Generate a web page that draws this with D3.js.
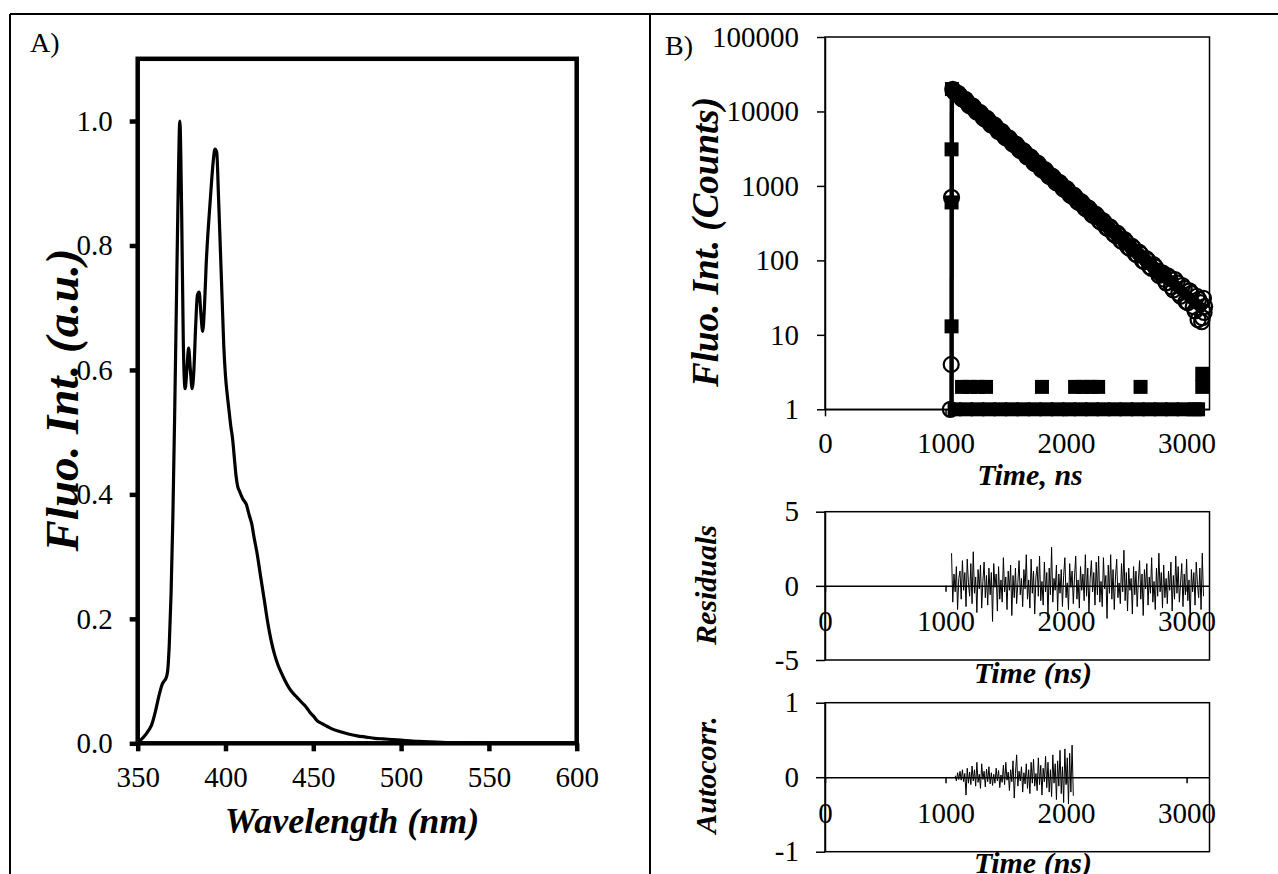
<!DOCTYPE html>
<html>
<head>
<meta charset="utf-8">
<script src="https://cdn.jsdelivr.net/npm/d3@7"></script>
<style>
  body { margin: 0; background: #fff; }
  svg { display: block; }
</style>
</head>
<body>
<svg id="fig" width="1278" height="874"></svg>
<script>
// ---- Panel A: emission spectrum ----
const specWavelength = [350, 352, 354, 356, 358, 360, 362, 364, 365, 366, 367, 368, 369, 370, 371, 372, 373, 374,
  375, 376, 377, 378, 379, 380, 381, 382, 383, 384, 385, 386, 387, 388, 389, 390, 391, 392, 393, 394, 395,
  396, 397, 398, 399, 400, 401, 402, 403, 404, 405, 406, 407, 408, 409, 410, 411, 412, 413, 414, 415, 416,
  418, 420, 422, 424, 426, 428, 430, 432, 434, 436, 438, 440, 442, 444, 446, 448, 450, 452, 454, 456, 458,
  460, 465, 470, 475, 480, 485, 490, 495, 500, 505, 510, 520, 530, 550, 600];
const specIntensity = [0.003, 0.006, 0.012, 0.02, 0.03, 0.05, 0.075, 0.095, 0.1, 0.104, 0.115, 0.16, 0.24, 0.36, 0.52, 0.7, 0.88, 1.0,
  0.86, 0.64, 0.57, 0.6, 0.635, 0.6, 0.57, 0.6, 0.67, 0.72, 0.725, 0.69, 0.662, 0.7, 0.77, 0.82, 0.86, 0.9, 0.935, 0.955, 0.95,
  0.88, 0.8, 0.72, 0.64, 0.59, 0.56, 0.535, 0.51, 0.49, 0.46, 0.43, 0.412, 0.405, 0.398, 0.392, 0.388, 0.383, 0.372, 0.362, 0.352, 0.335,
  0.305, 0.268, 0.232, 0.195, 0.165, 0.142, 0.125, 0.112, 0.1, 0.09, 0.082, 0.076, 0.07, 0.064, 0.058, 0.05, 0.044, 0.037, 0.033, 0.03, 0.027,
  0.024, 0.019, 0.015, 0.012, 0.01, 0.008, 0.007, 0.006, 0.005, 0.004, 0.003, 0.002, 0.001, 0.0005, 0];
const specXTicks = [350, 400, 450, 500, 550, 600];
const specYTicks = [0, 0.2, 0.4, 0.6, 0.8, 1.0];

// ---- Panel B: decay (circles = data, squares = IRF, lines = rise + fit) ----
const decayTime = [1040, 1047, 1050,
  1060, 1090, 1120, 1150, 1180, 1210, 1240, 1270, 1300, 1330, 1360, 1390, 1420, 1450, 1480, 1510, 1540, 1570,
  1600, 1630, 1660, 1690, 1720, 1750, 1780, 1810, 1840, 1870, 1900, 1930, 1960, 1990, 2020, 2050, 2080, 2110,
  2140, 2170, 2200, 2230, 2260, 2290, 2320, 2350, 2380, 2410, 2440, 2470, 2500, 2530, 2560, 2590, 2620, 2650,
  2680, 2710, 2740, 2770, 2800, 2830, 2860, 2890, 2920, 2950, 2980, 3010, 3040, 3070, 3100, 3130,
  1075, 1105, 1135, 1165, 1195, 1225, 1255, 1285, 1315, 1345, 1375, 1405, 1435, 1465, 1495, 1525, 1555, 1585,
  1615, 1645, 1675, 1705, 1735, 1765, 1795, 1825, 1855, 1885, 1915, 1945, 1975, 2005, 2035, 2065, 2095, 2125,
  2155, 2185, 2215, 2245, 2275, 2305, 2335, 2365, 2395, 2425, 2455, 2485, 2515, 2545, 2575, 2605, 2635, 2665,
  2695, 2725,
  2755, 2785, 2815, 2845, 2875, 2905, 2935, 2965, 2995, 3025, 3055, 3085, 3095, 3115, 3125, 3140, 3145, 3150];
const decayCounts = [1, 4, 700,
  19800, 17600, 16300, 14400, 13400, 11800, 11000, 9700, 9050, 7900, 7420, 6500, 6100, 5320, 5010, 4380, 4110, 3580,
  3380, 2940, 2780, 2410, 2280, 1970, 1870, 1620, 1540, 1320, 1260, 1090, 1040, 890, 850, 730, 700, 595,
  575, 488, 472, 398, 389, 326, 320, 266, 262, 217, 216, 178, 176, 145, 146, 118, 121, 96,
  99, 78, 82, 63, 68, 50, 58, 40, 50, 33, 42, 27, 36, 21, 30, 17,
  18100, 17500, 14800, 14500, 12100, 11900, 9900, 9750, 8100, 8050, 6650, 6600, 5450, 5420, 4480, 4430, 3680, 3650,
  3010, 2990, 2470, 2460, 2020, 2020, 1660, 1660, 1360, 1360, 1115, 1120, 915, 920, 750, 755, 615, 618,
  505, 508, 412, 418, 338, 342, 276, 282, 226, 232, 184, 190, 150, 156, 122, 129, 99, 106,
  82, 88,
  72, 66, 56, 62, 44, 55, 36, 46, 28, 39, 24, 33, 16, 27, 15, 31, 20, 24];
const irfTime = [1050, 1050, 1050, 1053,
  1075, 1170, 1265, 1360, 1455, 1550, 1645, 1740, 1835, 1930, 2025, 2120, 2215, 2310, 2405, 2500, 2595, 2690,
  2785, 2880, 2975, 3070, 3095,
  1137, 1200, 1270, 1336, 1800, 2075, 2140, 2205, 2266, 2618, 3130, 3130];
const irfCounts = [13, 600, 3100, 20000,
  1, 1, 1, 1, 1, 1, 1, 1, 1, 1, 1, 1, 1, 1, 1, 1, 1, 1,
  1, 1, 1, 1, 1,
  2, 2, 2, 2, 2, 2, 2, 2, 2, 2, 2, 3];
const riseTime = [1050, 1052];
const riseCounts = [1, 20000];
const fitTime = [1052, 3150];
const fitCounts = [20000, 21];
const timeTicks = [0, 1000, 2000, 3000];
const countTicks = [1, 10, 100, 1000, 10000, 100000];

// ---- Residuals (one channel every 10 ns from 1050 ns) ----
const residStartNs = 1050, residStepNs = 10;
const residuals = [
  2.2, -1.1, 0.8, -0.4, 1.3, -1.6, 0.5, 1.0, -0.9, 1.7, -0.3, 0.9, -1.4, 1.8, 0.2,
  -0.7, 1.5, -1.2, 2.3, -0.5, 0.6, -1.8, 1.1, -0.2, 1.4, -1.5, 0.3, 1.6, -0.8, 0.7,
  -1.3, 1.2, -0.6, 0.9, -2.4, 1.5, -0.1, 0.8, -1.7, 1.3, -0.9, 0.4, -1.1, 1.9, -0.4,
  0.6, -1.6, 1.0, -0.3, 1.4, -2.0, 0.7, -0.8, 1.2, -1.2, 0.2, 1.7, -0.6, 0.5, -1.4,
  1.1, -0.2, 2.1, -0.9, 0.4, -1.5, 1.8, -0.5, 1.0, -1.9, 0.6, 1.3, -0.7, 2.0, -1.0,
  0.3, -1.3, 1.6, -0.4, 0.9, -2.1, 1.2, -0.6, 2.6, -1.1, 0.5, -0.3, 1.4, -1.7, 0.8,
  -0.5, 1.1, -1.4, 0.7, 1.9, -0.8, 0.2, -1.6, 1.5, -0.1, 1.0, -1.2, 0.6, 2.0, -0.9,
  0.4, -1.5, 1.3, -0.3, 0.8, -1.0, 2.1, -0.7, 1.2, -1.8, 0.5, 1.7, -0.4, 0.9, -1.3,
  1.6, -0.6, 2.0, -1.1, 0.3, -1.4, 1.9, -0.2, 0.7, -2.2, 1.4, -0.5, 2.1, -0.9, 1.1,
  -1.6, 0.6, 1.8, -0.8, 0.2, -1.2, 1.5, -0.4, 2.4, -1.0, 0.9, -1.7, 1.2, -0.3, 0.5,
  -1.9, 1.3, -0.6, 1.0, -1.4, 0.4, 1.7, -0.9, 0.8, -2.0, 1.1, -0.2, 1.5, -1.3, 0.6,
  -0.5, 1.9, -1.1, 0.3, -1.6, 1.2, -0.7, 2.2, -0.4, 0.9, -1.5, 1.4, -0.8, 0.5, -1.2,
  1.0, -0.3, 1.6, -1.7, 0.7, -0.9, 2.0, -0.5, 1.3, -1.1, 0.2, 1.5, -1.4, 0.8, -0.6,
  1.8, -1.0, 0.4, -2.3, 1.1, -0.4, 0.9, -1.3, 1.6, 0.1, -0.8, 1.2, -1.6, 2.2, -0.7];
const residTicks = [-5, 0, 5];

// ---- Autocorrelation of residuals (every 10 ns from 1080 ns) ----
const autoStartNs = 1080, autoStepNs = 10;
const autocorr = [
  0.02, -0.05, 0.06, -0.03, 0.08, -0.04, 0.1, -0.06, 0.05, -0.24, 0.12, -0.08, 0.07, -0.1, 0.15,
  -0.05, 0.1, -0.12, 0.2, -0.07, 0.04, -0.15, 0.18, -0.03, 0.08, -0.13, 0.11, -0.06, 0.14, -0.09,
  0.06, -0.11, 0.04, -0.08, 0.12, -0.05, 0.09, -0.14, 0.03, -0.07, 0.16, -0.1, 0.2, -0.04, 0.07,
  -0.18, 0.1, -0.06, 0.22, -0.28, 0.05, 0.3, -0.12, 0.08, -0.05, 0.14, -0.2, 0.06, -0.09, 0.18,
  -0.15, 0.1, -0.22, 0.2, -0.08, 0.24, -0.12, 0.05, -0.18, 0.26, -0.1, 0.16, -0.24, 0.12, -0.06,
  0.28, -0.14, 0.2, -0.2, 0.1, -0.26, 0.3, -0.08, 0.18, -0.3, 0.22, -0.12, 0.36, -0.22, 0.14,
  -0.34, 0.38, -0.1, 0.26, -0.36, 0.32, -0.2, 0.43, -0.25];
const autoTicks = [-1, 0, 1];

const SERIF = '"Liberation Serif", "Times New Roman", Times, serif';
const TICK_FONT = 29;
const svg = d3.select("#fig").attr("font-family", SERIF);

// table frame around the two panels
const frame = svg.append("g").attr("stroke", "#000").attr("stroke-width", 2);
frame.append("line").attr("x1", 10).attr("y1", 14).attr("x2", 1278).attr("y2", 14);
frame.append("line").attr("x1", 10).attr("y1", 14).attr("x2", 10).attr("y2", 874);
frame.append("line").attr("x1", 650).attr("y1", 14).attr("x2", 650).attr("y2", 874);

// axis styling helper
function styleAxis(g, fontSize, strokeW) {
  g.attr("font-family", SERIF).attr("font-size", fontSize);
  g.selectAll(".domain").attr("stroke", "#000").attr("stroke-width", strokeW);
  g.selectAll(".tick line").attr("stroke", "#000").attr("stroke-width", strokeW);
  g.selectAll(".tick text").attr("fill", "#000");
}

function title(text, x, y, size, rotate) {
  svg.append("text")
    .attr("transform", rotate ? `translate(${x},${y}) rotate(-90)` : `translate(${x},${y})`)
    .attr("text-anchor", "middle")
    .attr("dy", rotate ? "0.35em" : null)
    .attr("font-size", size)
    .attr("font-weight", "bold")
    .attr("font-style", "italic")
    .text(text);
}

// ================= Panel A =================
const xA = d3.scaleLinear().domain([350, 600]).range([137.7, 576.7]);
const yA = d3.scaleLinear().domain([0, 1.1]).range([743.3, 58.8]);

svg.append("text").attr("x", 30).attr("y", 52).attr("font-size", 28).text("A)");

svg.append("rect")
  .attr("x", xA(350)).attr("y", yA(1.1))
  .attr("width", xA(600) - xA(350)).attr("height", yA(0) - yA(1.1))
  .attr("fill", "none").attr("stroke", "#000").attr("stroke-width", 4.5);

const axA_y = svg.append("g").attr("transform", `translate(${xA(350)},0)`)
  .call(d3.axisLeft(yA).tickValues(specYTicks).tickFormat(d3.format(".1f")).tickSize(8).tickSizeOuter(0).tickPadding(17));
styleAxis(axA_y, TICK_FONT, 4.5);
axA_y.select(".domain").remove();

const axA_x = svg.append("g").attr("transform", `translate(0,${yA(0)})`)
  .call(d3.axisBottom(xA).tickValues(specXTicks).tickSize(8).tickSizeOuter(0).tickPadding(15));
styleAxis(axA_x, TICK_FONT, 4.5);
axA_x.select(".domain").remove();

const specLine = d3.line()
  .x((d, i) => xA(specWavelength[i]))
  .y(d => yA(d))
  .curve(d3.curveMonotoneX);

svg.append("path")
  .datum(specIntensity)
  .attr("fill", "none")
  .attr("stroke", "#000")
  .attr("stroke-width", 3.2)
  .attr("stroke-linejoin", "round")
  .attr("d", specLine);

title("Fluo. Int. (a.u.)", 62, 400, 47, true);
title("Wavelength (nm)", 352, 833, 36, false);

// ================= Panel B: decay =================
const xB = d3.scaleLinear().domain([0, 3190]).range([825, 1209.5]);
const yB = d3.scaleLog().domain([1, 100000]).range([409.3, 37]);
const timeFmt = d => String(d);

svg.append("text").attr("x", 665).attr("y", 55).attr("font-size", 28).text("B)");

svg.append("rect")
  .attr("x", xB(0)).attr("y", yB(100000))
  .attr("width", xB(3190) - xB(0)).attr("height", yB(1) - yB(100000))
  .attr("fill", "none").attr("stroke", "#000").attr("stroke-width", 1.5);

const axB_y = svg.append("g").attr("transform", `translate(${xB(0)},0)`)
  .call(d3.axisLeft(yB).tickValues(countTicks).tickFormat(d => String(d)).tickSize(8).tickSizeOuter(0).tickPadding(18));
styleAxis(axB_y, TICK_FONT, 1.5);

const axB_x = svg.append("g").attr("transform", `translate(0,${yB(1)})`)
  .call(d3.axisBottom(xB).tickValues(timeTicks).tickFormat(timeFmt).tickSize(7).tickSizeOuter(0).tickPadding(16));
styleAxis(axB_x, TICK_FONT, 1.5);

const logLine = (times) => d3.line()
  .x((d, i) => xB(times[i]))
  .y(d => yB(d));

svg.append("path")
  .datum(riseCounts)
  .attr("fill", "none")
  .attr("stroke", "#000")
  .attr("stroke-width", 4.5)
  .attr("d", logLine(riseTime));

svg.append("path")
  .datum(fitCounts)
  .attr("fill", "none")
  .attr("stroke", "#000")
  .attr("stroke-width", 11)
  .attr("d", logLine(fitTime));

svg.append("g").selectAll("circle")
  .data(decayCounts)
  .enter()
  .append("circle")
  .attr("cx", (d, i) => xB(decayTime[i]))
  .attr("cy", d => yB(d))
  .attr("r", 7.5)
  .attr("fill", "none")
  .attr("stroke", "#000")
  .attr("stroke-width", 2.2);

svg.append("g").selectAll("rect")
  .data(irfCounts)
  .enter()
  .append("rect")
  .attr("x", (d, i) => xB(irfTime[i]) - 7)
  .attr("y", d => yB(d) - 7)
  .attr("width", 14)
  .attr("height", 14)
  .attr("fill", "#000");

title("Fluo. Int. (Counts)", 705, 242, 37, true);
title("Time, ns", 1030, 485, 30, false);

// ================= Residuals =================
const yR = d3.scaleLinear().domain([-5, 5]).range([660, 511.7]);

svg.append("rect")
  .attr("x", xB(0)).attr("y", yR(5))
  .attr("width", xB(3190) - xB(0)).attr("height", yR(-5) - yR(5))
  .attr("fill", "none").attr("stroke", "#000").attr("stroke-width", 1.5);

const axR_y = svg.append("g").attr("transform", `translate(${xB(0)},0)`)
  .call(d3.axisLeft(yR).tickValues(residTicks).tickFormat(d => String(d)).tickSize(9).tickSizeOuter(0).tickPadding(17));
styleAxis(axR_y, TICK_FONT, 1.5);

const axR_x = svg.append("g").attr("transform", `translate(0,${yR(0)})`)
  .call(d3.axisBottom(xB).tickValues(timeTicks).tickFormat(timeFmt).tickSize(6).tickSizeOuter(0).tickPadding(19));
styleAxis(axR_x, TICK_FONT, 1.5);

const residLine = d3.line()
  .x((d, i) => xB(residStartNs + i * residStepNs))
  .y(d => yR(d));

svg.append("path")
  .datum(residuals)
  .attr("fill", "none")
  .attr("stroke", "#000")
  .attr("stroke-width", 1)
  .attr("d", residLine);

title("Residuals", 705, 585, 30, true);
title("Time (ns)", 1033, 683, 30, false);

// ================= Autocorrelation =================
const yC = d3.scaleLinear().domain([-1, 1]).range([851.7, 702.7]);

svg.append("rect")
  .attr("x", xB(0)).attr("y", yC(1))
  .attr("width", xB(3190) - xB(0)).attr("height", yC(-1) - yC(1))
  .attr("fill", "none").attr("stroke", "#000").attr("stroke-width", 1.5);

const axC_y = svg.append("g").attr("transform", `translate(${xB(0)},0)`)
  .call(d3.axisLeft(yC).tickValues(autoTicks).tickFormat(d => String(d)).tickSize(9).tickSizeOuter(0).tickPadding(17));
styleAxis(axC_y, TICK_FONT, 1.5);

const axC_x = svg.append("g").attr("transform", `translate(0,${yC(0)})`)
  .call(d3.axisBottom(xB).tickValues(timeTicks).tickFormat(timeFmt).tickSize(6).tickSizeOuter(0).tickPadding(19));
styleAxis(axC_x, TICK_FONT, 1.5);

const autoLine = d3.line()
  .x((d, i) => xB(autoStartNs + i * autoStepNs))
  .y(d => yC(d));

svg.append("path")
  .datum(autocorr)
  .attr("fill", "none")
  .attr("stroke", "#000")
  .attr("stroke-width", 1)
  .attr("d", autoLine);

title("Autocorr.", 705, 775, 30, true);
title("Time (ns)", 1033, 873, 30, false);
</script>
</body>
</html>
